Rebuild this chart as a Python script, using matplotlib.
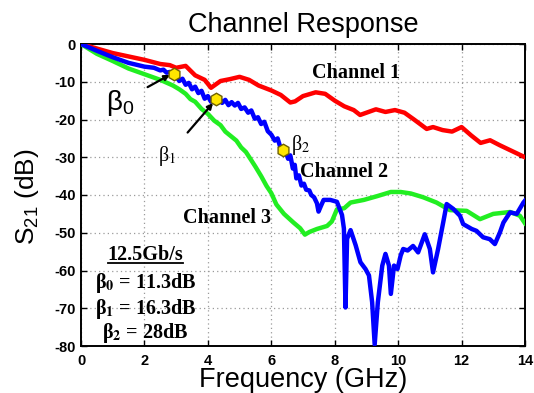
import matplotlib
matplotlib.use('Agg')
import matplotlib.pyplot as plt
from matplotlib.lines import Line2D

plt.rcParams['font.family'] = ['Liberation Sans', 'DejaVu Sans']
plt.rcParams['mathtext.fontset'] = 'custom'
plt.rcParams['mathtext.rm'] = 'Liberation Sans'
plt.rcParams['mathtext.it'] = 'Liberation Sans:italic'
plt.rcParams['mathtext.bf'] = 'Liberation Sans:bold'

# ---------------- data ----------------
ch1_f = [0, 0.5, 1.0, 1.5, 2.0, 2.5, 2.8, 3.0, 3.3, 3.6, 3.9, 4.1, 4.4, 4.7, 5.0, 5.3, 5.6,
         6.0, 6.3, 6.6, 6.75, 7.0, 7.4, 7.7, 8.0, 8.3, 8.6, 8.8, 9.0, 9.3, 9.6, 9.9, 10.2,
         10.5, 10.9, 11.1, 11.4, 11.7, 12.0, 12.3, 12.6, 12.9, 13.2, 13.5, 13.8, 14.0]
ch1_db = [0, -1.2, -2.4, -3.3, -4.2, -5.3, -5.6, -6.3, -5.8, -8.3, -9.5, -11.6, -9.8, -9.3,
          -8.7, -9.5, -11.0, -12.3, -13.5, -15.5, -15.2, -13.8, -12.8, -13.2, -15.0, -16.5,
          -17.5, -18.8, -18.2, -17.3, -18.0, -17.5, -18.2, -20.0, -22.5, -22.0, -22.8, -23.2,
          -22.0, -24.2, -26.2, -25.5, -26.8, -28.0, -29.2, -30.0]

ch2_f = [0, 0.5, 1.0, 1.5, 2.0, 2.3, 2.5, 2.6, 2.7, 2.8, 2.93, 3.0, 3.1, 3.2, 3.3, 3.4, 3.5,
         3.6, 3.7, 3.8, 3.9, 4.0, 4.1, 4.27, 4.35, 4.45, 4.55, 4.65, 4.75, 4.85, 4.95, 5.05,
         5.16, 5.27, 5.37, 5.48, 5.58, 5.68, 5.78, 5.89, 6.0, 6.11, 6.2, 6.3, 6.37, 6.45,
         6.53, 6.6, 6.68, 6.74, 6.79, 6.87, 6.95, 7.03, 7.1, 7.2, 7.26, 7.35, 7.44, 7.49,
         7.56, 7.65, 7.86, 8.07, 8.23, 8.29, 8.34, 8.39, 8.5, 8.66, 8.81, 8.97, 9.08, 9.18,
         9.26, 9.36, 9.5, 9.6, 9.71, 9.77, 9.87, 9.98, 10.08, 10.16, 10.3, 10.47, 10.63,
         10.84, 11.0, 11.1, 11.26, 11.42, 11.53, 11.74, 11.95, 12.05, 12.32, 12.47, 12.68,
         12.89, 13.05, 13.21, 13.32, 13.53, 13.74, 13.95, 14.0]
ch2_db = [0, -1.8, -3.5, -5.0, -6.0, -6.3, -7.0, -6.8, -7.6, -7.4, -8.0, -8.6, -9.8, -9.2,
          -10.8, -10.3, -12.0, -11.3, -13.0, -12.4, -14.5, -13.8, -15.3, -14.5, -14.2, -15.6,
          -14.8, -16.2, -15.4, -16.3, -15.6, -17.2, -16.8, -18.2, -17.6, -19.8, -19.4, -21.2,
          -20.6, -23.1, -24.0, -25.6, -25.0, -27.8, -28.0, -28.5, -30.4, -29.5, -33.0, -32.0,
          -35.6, -34.8, -37.5, -37.0, -38.6, -38.8, -40.0, -40.6, -42.2, -44.4, -43.0, -41.3,
          -41.3, -41.8, -45.3, -48.9, -69.8, -51.6, -49.3, -53.3, -57.8, -59.6, -61.3, -68.4,
          -79.6, -68.4, -58.7, -55.6, -58.7, -66.2, -58.7, -59.6, -56.0, -54.3, -54.7, -53.5,
          -55.2, -50.4, -54.3, -60.5, -54.3, -47.3, -42.4, -43.7, -45.5, -47.7, -49.0, -49.5,
          -51.2, -51.7, -53.0, -49.9, -47.3, -44.6, -45.0, -42.0, -41.5]

ch3_f = [0, 0.5, 1.0, 1.5, 2.0, 2.5, 2.9, 3.1, 3.3, 3.45, 3.6, 3.8, 4.0, 4.2, 4.4, 4.55,
         4.74, 4.9, 5.05, 5.2, 5.37, 5.5, 5.68, 5.85, 6.0, 6.16, 6.4, 6.7, 6.91, 7.06, 7.2,
         7.44, 7.76, 7.91, 8.07, 8.3, 8.5, 8.92, 9.34, 9.77, 10.08, 10.4, 10.79, 11.21,
         11.63, 12.16, 12.58, 13.0, 13.53, 13.84, 14.0]
ch3_db = [0, -2.6, -4.5, -6.5, -8.0, -9.5, -11.0, -12.0, -13.2, -14.6, -15.3, -17.2, -18.5,
          -20.3, -21.5, -23.2, -24.5, -25.6, -27.4, -28.6, -30.8, -32.5, -35.0, -37.6, -39.5,
          -42.5, -45.0, -47.3, -48.8, -50.5, -49.8, -49.0, -48.2, -47.0, -43.8, -43.5, -42.0,
          -41.3, -40.3, -39.2, -39.2, -39.6, -40.6, -42.0, -44.0, -44.2, -46.4, -45.0, -44.5,
          -45.5, -47.5]

beta_f = [2.93, 4.27, 6.37]
beta_db = [-8.0, -14.5, -28.0]

xticks = [0, 2, 4, 6, 8, 10, 12, 14]
yticks = [0, -10, -20, -30, -40, -50, -60, -70, -80]

# ---------------- figure ----------------
W, H = 534, 393
fig = plt.figure(figsize=(W / 100, H / 100), dpi=100)
ax = fig.add_axes([81 / W, 1 - 346 / H, (525 - 81) / W, (346 - 44) / H])

ax.plot(ch1_f, ch1_db, color='#ff0000', lw=3.2, solid_joinstyle='round', zorder=3)
ax.plot(ch3_f, ch3_db, color='#22ee22', lw=3.2, solid_joinstyle='round', zorder=3)
ax.plot(ch2_f, ch2_db, color='#0000ff', lw=3.2, solid_joinstyle='round', zorder=4)
ax.plot(beta_f, beta_db, linestyle='none', marker='h', markersize=9,
        markerfacecolor='#ffe600', markeredgecolor='#6e6000', markeredgewidth=1.0, zorder=5)

ax.set_xlim(0, 14)
ax.set_ylim(-80, 0)
ax.set_xticks(xticks)
ax.set_yticks(yticks)
ax.set_xticklabels([str(v) for v in xticks], fontsize=10.5, fontweight='bold')
ax.set_yticklabels([str(v) for v in yticks], fontsize=10.5, fontweight='bold')
ax.tick_params(direction='in', length=4, width=1.0, top=True, right=True, pad=4)
ax.tick_params(axis='x', pad=6)
ax.grid(True, color='#9a9a9a', linestyle=(0, (1, 2.5)), linewidth=0.9)
for s in ax.spines.values():
    s.set_linewidth(1.4)

fig.text(303 / W, 1 - 32 / H, 'Channel Response', ha='center', va='baseline', fontsize=19.5)
fig.text(303 / W, 1 - 387 / H, 'Frequency (GHz)', ha='center', va='baseline', fontsize=19.5)
fig.text(27 / W, 1 - 197 / H, r'S$_{\mathrm{21}}$ (dB)', ha='center', va='center',
         rotation=90, fontsize=19)

serif = dict(family='Liberation Serif', fontweight='bold', fontsize=14.5)
ax.text(8.68, -7.7, 'Channel 1', ha='center', va='center', **serif)
ax.text(8.3, -33.8, 'Channel 2', ha='center', va='center', **serif)
ax.text(4.62, -46.2, 'Channel 3', ha='center', va='center', **serif)

# beta annotations
ax.annotate(r'β$_{\mathrm{0}}$', xy=(beta_f[0] - 0.05, beta_db[0] + 0.2), xytext=(1.22, -15.5),
            ha='center', va='center', fontsize=20, family='Liberation Sans',
            arrowprops=dict(arrowstyle='-|>', color='black', lw=1.6, mutation_scale=8,
                            shrinkA=9, shrinkB=2))
ax.annotate(r'β$_{\mathrm{1}}$', xy=(beta_f[1] - 0.05, beta_db[1] - 0.6), xytext=(2.73, -29.6),
            ha='center', va='center', fontsize=14.5, family='Liberation Serif',
            math_fontfamily='stix',
            arrowprops=dict(arrowstyle='-|>', color='black', lw=1.6, mutation_scale=8,
                            shrinkA=9, shrinkB=2))
ax.text(6.62, -26.8, r'β$_{\mathrm{2}}$', ha='left', va='center', fontsize=14.5,
        family='Liberation Serif', math_fontfamily='stix')

# text block
bx = 2.03
t0 = ax.text(bx, -57.3, '12.5Gb/s', ha='center', va='baseline', **serif)
ax.text(bx, -63.4, r'β$_\mathbf{0}$ = 11.3dB', ha='center', va='center',
        math_fontfamily='stix', **serif)
ax.text(bx, -70.3, r'β$_\mathbf{1}$ = 16.3dB', ha='center', va='center',
        math_fontfamily='stix', **serif)
ax.text(bx, -76.5, r'β$_\mathbf{2}$ = 28dB', ha='center', va='center',
        math_fontfamily='stix', **serif)

# underline for the bit-rate label
fig.canvas.draw()
bb = t0.get_window_extent()
base_y = ax.transData.transform((bx, -57.3))[1]
fig.add_artist(Line2D([bb.x0 / W, bb.x1 / W], [(base_y - 2.5) / H, (base_y - 2.5) / H],
                      color='black', lw=1.3, transform=fig.transFigure))

fig.savefig('out.png', dpi=100, facecolor='white')
